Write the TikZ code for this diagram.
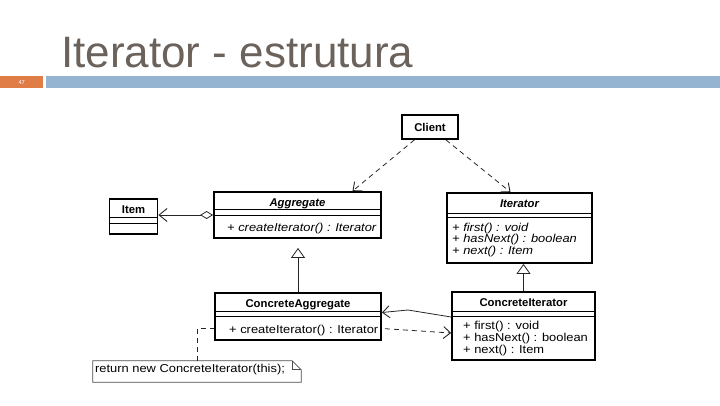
\documentclass[tikz,border=0pt]{standalone}
\usepackage{fontspec}
\usepackage{tikz}
\usetikzlibrary{arrows.meta}
\newfontfamily\titlefam{Liberation Sans}
\newfontfamily\umlfam[FakeStretch=1.12]{Liberation Sans}
\newfontfamily\clsfam[FakeStretch=1.0]{Liberation Sans}
\newcommand{\titlefont}{\titlefam\fontsize{44}{44}\selectfont}
\newcommand{\opfont}{\umlfam\fontsize{11.5}{12}\selectfont}
\newcommand{\clsfont}{\clsfam\bfseries\fontsize{11.3}{12}\selectfont}
\definecolor{titlegray}{RGB}{108,98,92}
\definecolor{slideorange}{RGB}{224,124,70}
\definecolor{slideblue}{RGB}{148,180,209}

\tikzset{
  cls/.style={draw,line width=1.8pt,inner sep=0pt},
  clsname/.style={font=\clsfont,inner sep=0pt,anchor=base},
  op/.style={font=\opfont,inner sep=0pt,anchor=base west},
  comp/.style={line width=0.9pt},
  dep/.style={black!85,line width=0.8pt,dash pattern=on 5pt off 4pt,-{Straight Barb[length=7pt,width=12pt,line width=0.9pt]}},
  nav/.style={black!85,line width=0.8pt,-{Straight Barb[length=7pt,width=12pt,line width=0.9pt]}},
  gen/.style={black!85,line width=0.8pt,-{Triangle[open,length=10pt,width=14pt]}},
  agr/.style={black!85,line width=0.8pt,{Diamond[open,length=13pt,width=8pt]}-{Straight Barb[length=8pt,width=13pt,line width=0.9pt]}}
}

\begin{document}
\begin{tikzpicture}[x=1pt,y=-1pt]
    \useasboundingbox (0,0) rectangle (720,405);

    % slide title
    \node[anchor=base west,inner sep=0pt,font=\titlefont,text=titlegray] (title) at (61,67) {Iterator - estrutura};
    \node[fill=slideorange,minimum width=43pt,minimum height=12pt,inner sep=0pt,anchor=north west,
          text=white,font=\sffamily\fontsize{6}{6}\selectfont] (slideno) at (0,76) {47};
    \node[fill=slideblue,minimum width=674pt,minimum height=12pt,inner sep=0pt,anchor=north west] (bar) at (46,76) {};

    % classes
    \node[cls,minimum width=56pt,minimum height=24pt] (client) at (430,127) {};
    \node[clsname] (clientname) at (430,131) {Client};

    \node[cls,minimum width=167pt,minimum height=46pt] (agg) at (297.5,215) {};
    \node[clsname] (aggname) at (297.5,206) {\itshape Aggregate};
    \draw[comp] (agg.west |- 0,209) -- (agg.east |- 0,209);
    \draw[comp] (agg.west |- 0,215) -- (agg.east |- 0,215);
    \node[op] (aggop) at (227,231) {\itshape + createIterator() : Iterator};

    \node[cls,minimum width=48pt,minimum height=35pt] (item) at (133.5,216.5) {};
    \node[clsname] (itemname) at (133.5,213) {Item};
    \draw[comp] (item.west |- 0,217.5) -- (item.east |- 0,217.5);
    \draw[comp] (item.west |- 0,223) -- (item.east |- 0,223);

    \node[cls,minimum width=145pt,minimum height=70pt] (iter) at (519.5,228) {};
    \node[clsname] (itername) at (519.5,207) {\itshape Iterator};
    \draw[comp] (iter.west |- 0,213) -- (iter.east |- 0,213);
    \draw[comp] (iter.west |- 0,217) -- (iter.east |- 0,217);
    \node[op] (iterop1) at (452,231) {\itshape + first() : void};
    \node[op] (iterop2) at (452,242) {\itshape + hasNext() : boolean};
    \node[op] (iterop3) at (452,254) {\itshape + next() : Item};

    \node[cls,minimum width=166pt,minimum height=47pt] (cagg) at (298,316.5) {};
    \node[clsname] (caggname) at (298,307) {ConcreteAggregate};
    \draw[comp] (cagg.west |- 0,311) -- (cagg.east |- 0,311);
    \draw[comp] (cagg.west |- 0,316) -- (cagg.east |- 0,316);
    \node[op] (caggop) at (229,333) {+ createIterator() : Iterator};

    \node[cls,minimum width=143pt,minimum height=68pt] (cit) at (523.5,326) {};
    \node[clsname] (citname) at (523.5,306) {ConcreteIterator};
    \draw[comp] (cit.west |- 0,311) -- (cit.east |- 0,311);
    \draw[comp] (cit.west |- 0,316) -- (cit.east |- 0,316);
    \node[op] (citop1) at (463,329) {+ first() : void};
    \node[op] (citop2) at (463,341) {+ hasNext() : boolean};
    \node[op] (citop3) at (463,353) {+ next() : Item};

    % note
    \node[minimum width=208pt,minimum height=21pt,inner sep=0pt] (note) at (197,371.5) {};
    \draw[black!70,line width=0.8pt] (note.south west) -- (note.north west) -- ([xshift=-9pt]note.north east)
        -- ([yshift=-9pt]note.north east) -- (note.south east) -- cycle;
    \draw[black!70,line width=0.8pt] ([xshift=-9pt]note.north east) -- ([xshift=-9pt,yshift=-9pt]note.north east)
        -- ([yshift=-9pt]note.north east);
    \node[op] (notetext) at (95,372) {return new ConcreteIterator(this);};

    % connectors
    \coordinate (bend) at (408,310);
    \path
    (client) edge[dep] ([xshift=55pt]agg.north)
    (client) edge[dep] ([xshift=-9pt]iter.north)
    (agg.west) edge[agr] (agg.west -| item.east)
    (cagg.north) edge[gen,shorten >=9pt] (cagg.north |- agg.south)
    (cit.north) edge[gen] (cit.north |- iter.south)
    ([yshift=-12pt]cagg.east) edge[dep,shorten <=3pt] ([yshift=-7pt]cit.west);
    \draw[nav] ([yshift=9pt]cit.west) -- (bend) -- ([yshift=4pt]cagg.east);
    \draw[black!85,line width=0.8pt,dash pattern=on 5pt off 4pt] (note.north) |- ([yshift=-12pt]cagg.west);

  \end{tikzpicture}
\end{document}
